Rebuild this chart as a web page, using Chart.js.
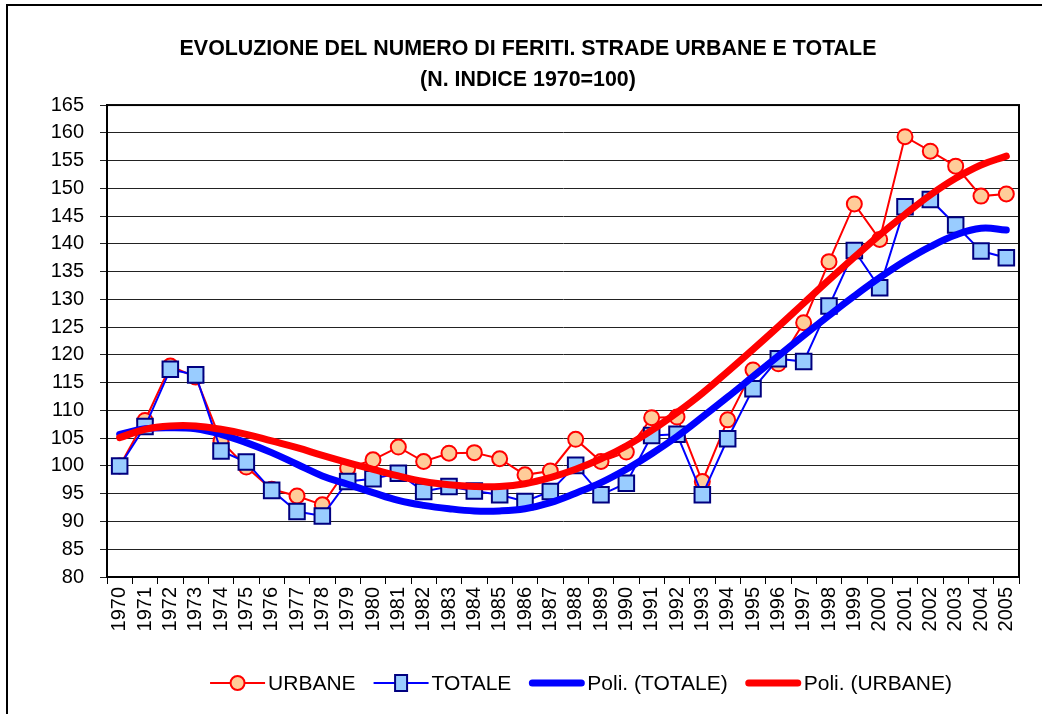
<!DOCTYPE html>
<html>
<head>
<meta charset="utf-8">
<script src="https://cdn.jsdelivr.net/npm/chart.js@4/dist/chart.umd.min.js"></script>
<style>
  html, body { margin: 0; padding: 0; background: #fff; }
  #wrap { width: 1042px; height: 714px; position: relative; }
</style>
</head>
<body>
<div id="wrap"><canvas id="c" width="1042" height="714"></canvas></div>
<script>
const years = ['1970','1971','1972','1973','1974','1975','1976','1977','1978','1979',
  '1980','1981','1982','1983','1984','1985','1986','1987','1988','1989',
  '1990','1991','1992','1993','1994','1995','1996','1997','1998','1999',
  '2000','2001','2002','2003','2004','2005'];

const urbane = [100,108.2,118,116,104.5,99.8,95.8,94.6,93,99.6,
  101.1,103.4,100.8,102.3,102.4,101.3,98.4,99.1,104.8,100.8,
  102.5,108.7,108.8,97.2,108.3,117.3,118.4,125.8,136.8,147.2,
  140.8,159.3,156.7,154.0,148.6,149.0];

const totale = [100,107.1,117.4,116.4,102.7,100.7,95.6,91.8,91.0,97.2,
  97.7,98.7,95.4,96.3,95.5,94.8,93.6,95.4,100.1,94.8,
  96.9,105.5,105.7,94.8,104.9,113.9,119.3,118.8,128.8,138.8,
  132.1,146.7,148.0,143.4,138.7,137.5];

const poliTotale = [105.7,106.7,106.9,106.7,105.7,104.2,102.4,100.3,98.2,96.7,
  95.2,93.8,92.9,92.3,91.9,91.9,92.3,93.4,95.1,97.0,
  99.4,102.2,105.3,108.8,112.4,116.1,119.8,123.5,127.1,130.6,
  133.9,136.9,139.5,141.6,142.8,142.5];

const poliUrbane = [105.1,106.6,107.2,107.2,106.6,105.7,104.5,103.3,101.9,100.6,
  99.4,98.2,97.2,96.6,96.3,96.3,96.8,97.9,99.4,101.3,
  103.6,106.4,109.6,113.1,117.0,121.0,125.1,129.3,133.5,137.6,
  141.6,145.3,148.8,151.8,154.2,155.8];

const yTicks = [80,85,90,95,100,105,110,115,120,125,130,135,140,145,150,155,160,165];

const titleLines = ['EVOLUZIONE DEL NUMERO DI FERITI. STRADE URBANE E TOTALE', '(N. INDICE 1970=100)'];
const legendNames = ['URBANE', 'TOTALE', 'Poli. (TOTALE)', 'Poli. (URBANE)'];

const FONT = "'Liberation Sans', Arial, sans-serif";

const frame = {
  id: 'frame',
  afterLayout(chart) {
    if (chart.titleBlock) { chart.titleBlock.left += 30; }
  },
  beforeDraw(chart) {
    const ctx = chart.ctx;
    ctx.save();
    ctx.fillStyle = '#fff';
    ctx.fillRect(0, 0, chart.width, chart.height);
    ctx.strokeStyle = '#000';
    ctx.lineWidth = 2;
    ctx.strokeRect(7, 5, chart.width + 20, chart.height + 20);
    ctx.restore();
  },
  afterDatasetsDraw(chart) {
    const a = chart.chartArea, ctx = chart.ctx;
    ctx.save();
    ctx.strokeStyle = '#000';
    ctx.lineWidth = 2;
    ctx.strokeRect(a.left, a.top, a.right - a.left, a.bottom - a.top);
    ctx.restore();
  }
};

const customLegend = {
  id: 'customLegend',
  afterDraw(chart) {
    const ctx = chart.ctx;
    ctx.save();
    ctx.font = '21px ' + FONT;
    ctx.textBaseline = 'middle';
    const y = 683, lineLen = 55, gapText = 3, gapItem = 18;
    let total = 0;
    const widths = legendNames.map(n => ctx.measureText(n).width);
    widths.forEach(w => total += lineLen + gapText + w);
    total += gapItem * (legendNames.length - 1);
    let x = 581 - total / 2;
    legendNames.forEach((name, i) => {
      const ds = chart.data.datasets[i];
      const thick = ds.borderWidth > 3;
      ctx.strokeStyle = ds.borderColor;
      ctx.lineWidth = ds.borderWidth;
      ctx.lineCap = thick ? 'round' : 'butt';
      ctx.beginPath();
      ctx.moveTo(x + (thick ? 3 : 0), y);
      ctx.lineTo(x + lineLen - (thick ? 3 : 0), y);
      ctx.stroke();
      const cx = x + lineLen / 2;
      if (ds.pointStyle === 'circle') {
        ctx.beginPath();
        ctx.arc(cx, y, 7, 0, Math.PI * 2);
        ctx.fillStyle = ds.pointBackgroundColor;
        ctx.fill();
        ctx.lineWidth = 2; ctx.strokeStyle = ds.pointBorderColor;
        ctx.stroke();
      } else if (ds.pointStyle === 'rect') {
        ctx.fillStyle = ds.pointBackgroundColor;
        ctx.fillRect(cx - 6, y - 8, 12, 16);
        ctx.lineWidth = 2; ctx.strokeStyle = ds.pointBorderColor;
        ctx.strokeRect(cx - 6, y - 8, 12, 16);
      }
      ctx.fillStyle = '#000';
      ctx.textAlign = 'left';
      ctx.fillText(name, x + lineLen + gapText, y + 1);
      x += lineLen + gapText + widths[i] + gapItem;
    });
    ctx.restore();
  }
};

new Chart(document.getElementById('c'), {
  type: 'line',
  data: {
    labels: years,
    datasets: [
      {
        label: legendNames[0], data: urbane, order: 3,
        borderColor: '#FF0000', borderWidth: 2, tension: 0,
        pointStyle: 'circle', pointRadius: 7.5, pointBackgroundColor: '#FFCC99',
        pointBorderColor: '#FF0000', pointBorderWidth: 2
      },
      {
        label: legendNames[1], data: totale, order: 2,
        borderColor: '#0000FF', borderWidth: 2, tension: 0,
        pointStyle: 'rect', pointRadius: 11, pointBackgroundColor: '#99CCFF',
        pointBorderColor: '#000080', pointBorderWidth: 2
      },
      {
        label: legendNames[2], data: poliTotale, order: 1,
        borderColor: '#0000FF', borderWidth: 7, tension: 0.4,
        pointRadius: 0, borderCapStyle: 'round'
      },
      {
        label: legendNames[3], data: poliUrbane, order: 0,
        borderColor: '#FF0000', borderWidth: 7, tension: 0.4,
        pointRadius: 0, borderCapStyle: 'round'
      }
    ]
  },
  options: {
    responsive: false,
    animation: false,
    events: [],
    layout: { padding: { left: 7, right: 23, top: 0, bottom: 62 } },
    plugins: {
      legend: { display: false },
      tooltip: { enabled: false },
      title: {
        display: true,
        text: titleLines,
        color: '#000',
        font: { family: FONT, size: 21.4, weight: 'bold', lineHeight: 1.45 },
        padding: { top: 34, bottom: 9 }
      }
    },
    scales: {
      x: {
        offset: true,
        grid: { offset: true, drawOnChartArea: false, drawTicks: true, tickLength: 7, color: '#000', lineWidth: 1 },
        border: { color: '#000', width: 2 },
        ticks: {
          color: '#000', font: { family: FONT, size: 20 },
          minRotation: 90, maxRotation: 90, autoSkip: false, padding: 3
        },
        afterFit(s) { s.height = 714 - 577 - 62; }
      },
      y: {
        min: 80, max: 165,
        afterBuildTicks(s) { s.ticks = yTicks.map(v => ({ value: v })); },
        grid: { color: '#222', lineWidth: 1, tickLength: 7, drawTicks: true },
        border: { color: '#000', width: 2 },
        ticks: { color: '#000', font: { family: FONT, size: 20 }, padding: 16 },
        afterFit(s) { s.width = 100; }
      }
    }
  },
  plugins: [frame, customLegend]
});
</script>
</body>
</html>
